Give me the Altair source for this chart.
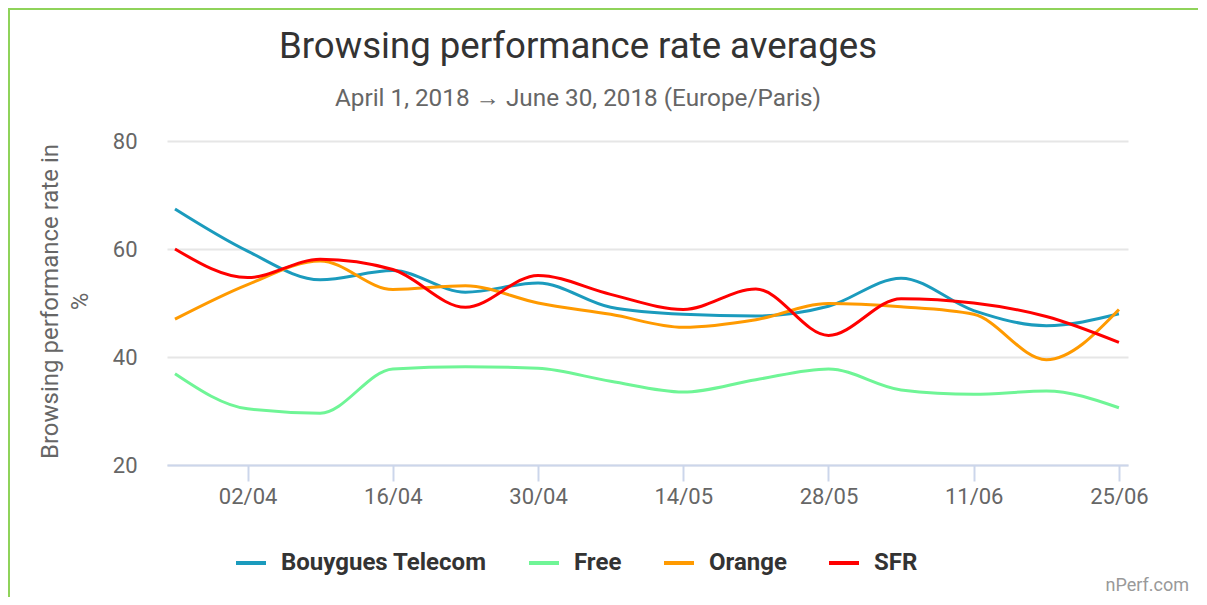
import altair as alt
import pandas as pd

dates = ["2018-03-26", "2018-04-02", "2018-04-09", "2018-04-16", "2018-04-23",
         "2018-04-30", "2018-05-07", "2018-05-14", "2018-05-21", "2018-05-28",
         "2018-06-04", "2018-06-11", "2018-06-18", "2018-06-25"]

operators = ["Bouygues Telecom", "Free", "Orange", "SFR"]
colors = ["#1b9bbd", "#6ff596", "#ff9a00", "#ff0000"]

bouygues = [67.4, 59.6, 54.3, 56.0, 52.0, 53.7, 49.2, 47.9, 47.6, 49.4, 54.6, 48.6, 45.8, 48.0]
free = [36.9, 30.4, 29.6, 37.8, 38.2, 37.9, 35.5, 33.5, 35.8, 37.8, 33.9, 33.1, 33.7, 30.6]
orange = [47.0, 53.4, 57.8, 52.5, 53.2, 50.0, 47.9, 45.5, 46.9, 49.9, 49.3, 47.9, 39.5, 48.8]
sfr = [60.0, 54.7, 58.1, 56.2, 49.2, 55.1, 51.6, 48.8, 52.6, 44.0, 50.8, 50.0, 47.5, 42.7]

y_ticks = [20, 40, 60, 80]
x_tick_days = [(4, 2), (4, 16), (4, 30), (5, 14), (5, 28), (6, 11), (6, 25)]

title_text = "Browsing performance rate averages"
subtitle_text = "April 1, 2018 → June 30, 2018 (Europe/Paris)"
credit_text = "nPerf.com"

series = [bouygues, free, orange, sfr]
rows = []
for name, vals in zip(operators, series):
    for d, v in zip(dates, vals):
        rows.append({"date": d, "operator": name, "value": v})
df = pd.DataFrame(rows)

FONT = "Roboto"

x_values = [alt.DateTime(year=2018, month=m, date=d, utc=True) for m, d in x_tick_days]

lines = alt.Chart(df).mark_line(interpolate="monotone", strokeWidth=3).encode(
    x=alt.X(
        "date:T",
        scale=alt.Scale(
            type="utc",
            domain=[
                alt.DateTime(year=2018, month=3, date=25, hours=5, minutes=30, utc=True),
                alt.DateTime(year=2018, month=6, date=25, hours=21, utc=True),
            ],
        ),
        axis=alt.Axis(
            values=x_values,
            labelExpr="utcFormat(datum.value, '%d/%m')",
            title=None,
            grid=False,
            domainColor="#ccd6eb",
            domainWidth=2,
            tickColor="#ccd6eb",
            tickWidth=2,
            tickSize=16,
            labelPadding=5,
            labelFont=FONT,
            labelFontSize=22,
            labelColor="#666666",
        ),
    ),
    y=alt.Y(
        "value:Q",
        scale=alt.Scale(domain=[20, 80], nice=False),
        axis=alt.Axis(
            values=y_ticks,
            title=["Browsing performance rate in", "%"],
            titleFont=FONT,
            titleFontSize=24,
            titleFontWeight="normal",
            titleColor="#666666",
            titleAngle=270,
            titleBaseline="middle",
            titleAlign="center",
            titleX=-117,
            titleY=160,
            titleLineHeight=30,
            domain=False,
            ticks=False,
            grid=True,
            gridColor="#e6e6e6",
            gridWidth=2,
            labelPadding=30,
            labelFont=FONT,
            labelFontSize=22,
            labelColor="#666666",
        ),
    ),
    color=alt.Color(
        "operator:N",
        scale=alt.Scale(domain=operators, range=colors),
        legend=alt.Legend(
            title=None,
            orient="none",
            direction="horizontal",
            legendX=67,
            legendY=405,
            symbolType="stroke",
            symbolStrokeWidth=4,
            symbolSize=900,
            labelFont=FONT,
            labelFontSize=24,
            labelFontWeight="bold",
            labelColor="#333333",
            labelOffset=13,
            labelLimit=400,
            columnPadding=34,
        ),
    ),
)

border_data = alt.Data(values=[{"k": 1}])
top_border = alt.Chart(border_data).mark_rule(color="#8fd35a", strokeWidth=2).encode(
    x=alt.value(-159), x2=alt.value(1031), y=alt.value(-132)
)
left_border = alt.Chart(border_data).mark_rule(color="#8fd35a", strokeWidth=2).encode(
    x=alt.value(-158), y=alt.value(-133), y2=alt.value(460)
)

title_mark = alt.Chart(alt.Data(values=[{"t": title_text}])).mark_text(
    align="center", baseline="alphabetic", font=FONT, fontSize=36.6, color="#333333"
).encode(x=alt.value(411), y=alt.value(-83), text="t:N")

subtitle_mark = alt.Chart(alt.Data(values=[{"t": subtitle_text}])).mark_text(
    align="center", baseline="alphabetic", font=FONT, fontSize=24.3, color="#666666"
).encode(x=alt.value(411), y=alt.value(-35), text="t:N")

credit = alt.Chart(alt.Data(values=[{"t": credit_text}])).mark_text(
    align="right", baseline="alphabetic", font=FONT, fontSize=18, color="#999999"
).encode(x=alt.value(1022), y=alt.value(450), text="t:N")

chart = alt.layer(top_border, left_border, title_mark, subtitle_mark, lines, credit).properties(
    width=961,
    height=324,
    background="white",
    autosize=alt.AutoSizeParams(type="none"),
    padding={"left": 159, "top": 133, "right": 70, "bottom": 132},
).configure_view(stroke="transparent")

chart.save("out.html", embed_options={"renderer": "svg", "actions": False})
